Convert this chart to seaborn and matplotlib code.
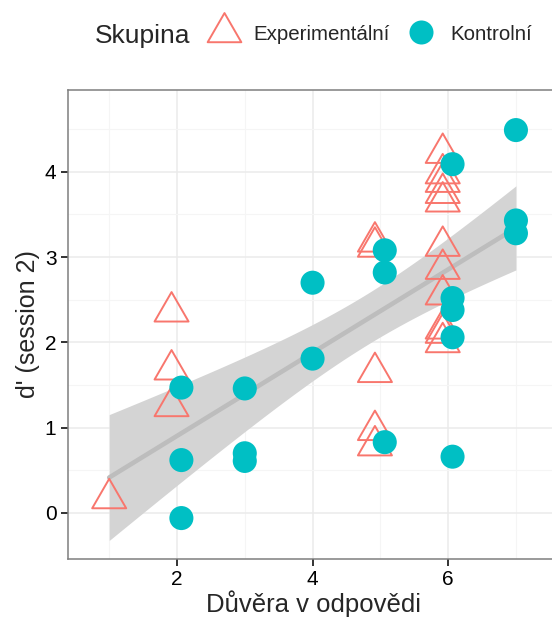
import numpy as np
import pandas as pd
import matplotlib
matplotlib.use("Agg")
import matplotlib.pyplot as plt
from matplotlib.lines import Line2D
from matplotlib.path import Path
import seaborn as sns

# ---------------- data ----------------
group_names = ["Experimentální", "Kontrolní"]
exp_x = [1, 2, 2, 2, 5, 5, 5, 5, 5, 6, 6, 6, 6, 6, 6, 6, 6, 6, 6, 6]
exp_y = [0.17, 2.36, 1.68, 1.25, 3.18, 3.12, 1.65, 0.97, 0.79,
         4.22, 3.98, 3.88, 3.75, 3.65, 3.13, 2.86, 2.56, 2.16, 2.11, 2.00]
ctl_x = [2, 2, 2, 3, 3, 3, 4, 4, 5, 5, 5, 6, 6, 6, 6, 6, 7, 7, 7]
ctl_y = [1.47, 0.62, -0.06, 1.46, 0.70, 0.61, 2.70, 1.81, 3.08, 2.82, 0.83,
         4.09, 2.52, 2.38, 2.06, 0.66, 4.49, 3.43, 3.28]
x_ticks = [2, 4, 6]
y_ticks = [0, 1, 2, 3, 4]
x_label = "Důvěra v odpovědi"
y_label = "d' (session 2)"
legend_title = "Skupina"

# ---------------- styling ----------------
C_EXP = "#F8766D"
C_CTL = "#00BFC4"
sns.set_theme(style="whitegrid")
plt.rcParams["font.family"] = ["Liberation Sans", "DejaVu Sans"]

# equilateral triangle centred at centroid (like R pch 2)
tri = Path([(0, 1), (-0.866, -0.5), (0.866, -0.5), (0, 1)],
           [Path.MOVETO, Path.LINETO, Path.LINETO, Path.CLOSEPOLY])

df = pd.DataFrame({
    "x": exp_x + ctl_x,
    "y": exp_y + ctl_y,
    "grp": [group_names[0]] * len(exp_x) + [group_names[1]] * len(ctl_x),
})

# dodge where both groups share an x value
shared = set(exp_x) & set(ctl_x)
df["xd"] = [
    x + ((-0.08 if g == group_names[0] else 0.065) if x in shared else 0.0)
    for x, g in zip(df["x"], df["grp"])
]

fig = plt.figure(figsize=(5.52, 6.21), dpi=100)
ax = fig.add_axes([67.5 / 552, 62 / 621, (560 - 67.5) / 552, (559 - 90) / 621])

# regression on all points (line from seaborn, analytic 95% band like ggplot)
sns.regplot(data=df, x="x", y="y", scatter=False, ax=ax, ci=None,
            line_kws=dict(color="#BDBDBD", lw=3.3, zorder=2))
xv = df["x"].to_numpy(float)
yv = df["y"].to_numpy(float)
n = len(xv)
b1, b0 = np.polyfit(xv, yv, 1)
resid = yv - (b0 + b1 * xv)
s_err = np.sqrt(np.sum(resid ** 2) / (n - 2))
xg = np.linspace(xv.min(), xv.max(), 100)
se = s_err * np.sqrt(1 / n + (xg - xv.mean()) ** 2 / np.sum((xv - xv.mean()) ** 2))
t_crit = 2.026  # t(0.975, df=37)
yfit = b0 + b1 * xg
ax.fill_between(xg, yfit - t_crit * se, yfit + t_crit * se, color="#D4D4D4",
                lw=0, zorder=1)

de = df[df["grp"] == group_names[0]]
dc = df[df["grp"] == group_names[1]]
sns.scatterplot(data=de, x="xd", y="y", marker=tri, s=800, facecolors="none",
                edgecolors=C_EXP, linewidth=1.4, ax=ax, zorder=3, legend=False)
sns.scatterplot(data=dc, x="xd", y="y", marker="o", s=300, color=C_CTL,
                edgecolor="none", linewidth=0, ax=ax, zorder=4, legend=False)

ax.set_xlim(0.385, 7.65)
ax.set_ylim(-0.54, 4.96)
ax.set_xticks(x_ticks)
ax.set_yticks(y_ticks)
ax.set_xticks([1, 3, 5, 7], minor=True)
ax.set_yticks([0.5, 1.5, 2.5, 3.5, 4.5], minor=True)
ax.grid(which="major", color="#EBEBEB", lw=1.1)
ax.grid(which="minor", color="#F5F5F5", lw=0.8)
ax.set_axisbelow(True)
for s in ax.spines.values():
    s.set_color("#7F7F7F")
    s.set_linewidth(1.1)
ax.tick_params(axis="both", which="major", length=5, width=1.4, color="#333333",
               labelsize=15, labelcolor="black", pad=3, bottom=True, left=True)
ax.tick_params(axis="both", which="minor", length=0)
ax.set_xlabel(x_label, fontsize=18.5, labelpad=1)
ax.set_ylabel(y_label, fontsize=18, labelpad=3)

# legend
handles = [
    Line2D([], [], marker=tri, linestyle="none", markersize=28, markerfacecolor="none",
           markeredgecolor=C_EXP, markeredgewidth=1.4),
    Line2D([], [], marker="o", linestyle="none", markersize=17.3, markerfacecolor=C_CTL,
           markeredgecolor="none"),
]
fig.text(95 / 552, 1 - 36 / 621, legend_title, fontsize=19, ha="left", va="center")
fig.legend(handles, group_names, loc="center left", bbox_to_anchor=(208 / 552, 1 - 34 / 621),
           ncol=2, frameon=False, fontsize=14.8, handlelength=1.6, handletextpad=0.6,
           columnspacing=0.75, borderaxespad=0, borderpad=0)

fig.savefig("out.png", dpi=100)
